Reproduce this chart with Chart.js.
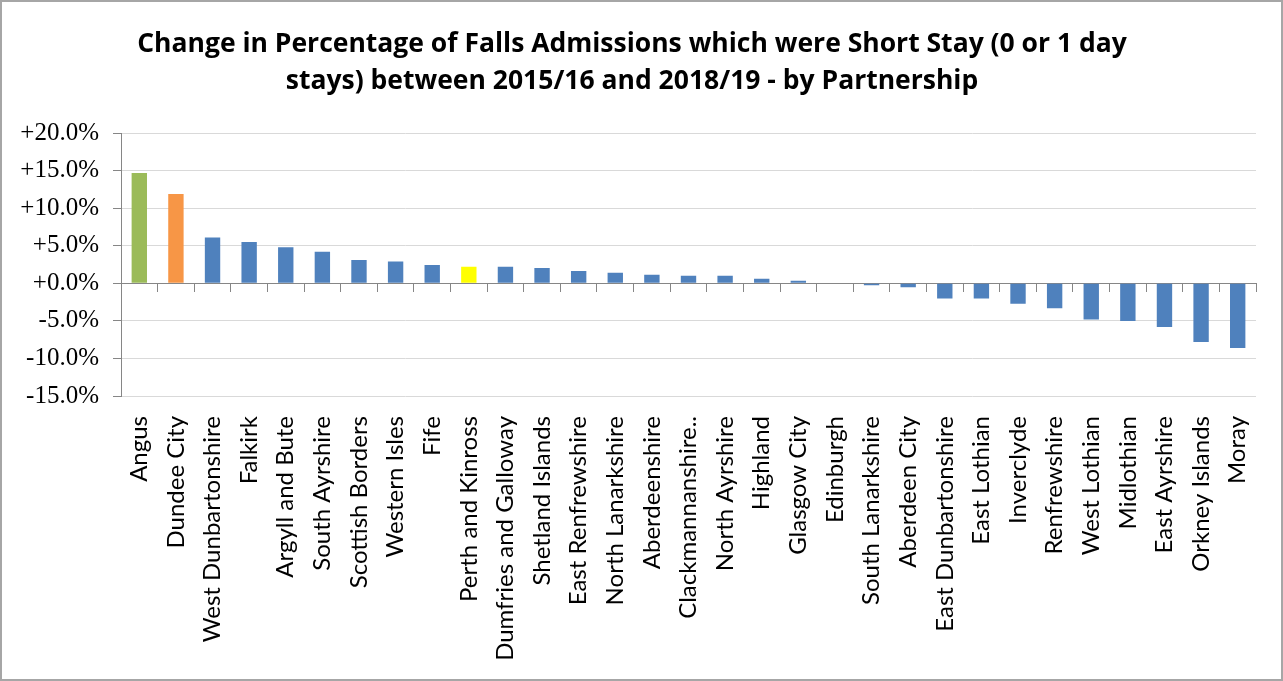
<!DOCTYPE html>
<html>
<head>
<meta charset="utf-8">
<script src="https://cdn.jsdelivr.net/npm/chart.js@4"></script>
<style>
  html, body { margin: 0; padding: 0; background: #fff; }
  #wrap { width: 1283px; height: 681px; }
</style>
</head>
<body>
<div id="wrap"><canvas id="chart" width="1283" height="681"></canvas></div>
<script>
// Partnerships, sorted as in the source chart
const partnerships = [
    'Angus', 'Dundee City', 'West Dunbartonshire', 'Falkirk', 'Argyll and Bute',
    'South Ayrshire', 'Scottish Borders', 'Western Isles', 'Fife', 'Perth and Kinross',
    'Dumfries and Galloway', 'Shetland Islands', 'East Renfrewshire', 'North Lanarkshire',
    'Aberdeenshire', 'Clackmannanshire..', 'North Ayrshire', 'Highland', 'Glasgow City',
    'Edinburgh', 'South Lanarkshire', 'Aberdeen City', 'East Dunbartonshire', 'East Lothian',
    'Inverclyde', 'Renfrewshire', 'West Lothian', 'Midlothian', 'East Ayrshire',
    'Orkney Islands', 'Moray'
];

// Change in % of falls admissions that were short stay (percentage points)
const changePct = [
    14.7, 11.9, 6.1, 5.5, 4.8,
    4.2, 3.1, 2.9, 2.45, 2.2,
    2.2, 2.05, 1.65, 1.4,
    1.15, 1.0, 1.0, 0.6, 0.35,
    0.0, -0.25, -0.5, -2.0, -2.0,
    -2.7, -3.3, -4.8, -5.0, -5.8,
    -7.8, -8.6
];

const yTicks = [-15, -10, -5, 0, 5, 10, 15, 20];

// highlighted partnerships get their own colour
const highlight = { 'Angus': '#9bbb59', 'Dundee City': '#f79646', 'Perth and Kinross': '#ffff00' };
const defaultColour = '#4f81bd';

const axisGrey = '#868686';

// white background + thin grey frame round the whole picture
const framePlugin = {
    id: 'frame',
    beforeDraw(chart) {
        const ctx = chart.ctx;
        ctx.save();
        ctx.fillStyle = '#fff';
        ctx.fillRect(0, 0, chart.width, chart.height);
        ctx.strokeStyle = '#a6a6a6';
        ctx.lineWidth = 2;
        ctx.strokeRect(1, 1, chart.width - 2, chart.height - 2);
        ctx.restore();
    }
};

new Chart(document.getElementById('chart'), {
    type: 'bar',
    data: {
        labels: partnerships,
        datasets: [{
            data: changePct,
            backgroundColor: partnerships.map(p => highlight[p] || defaultColour),
            barPercentage: 0.42,
            categoryPercentage: 1.0
        }]
    },
    options: {
        responsive: false,
        animation: false,
        layout: { padding: { left: 8, right: 27, top: 0, bottom: 0 } },
        plugins: {
            legend: { display: false },
            tooltip: { enabled: false },
            title: {
                display: true,
                text: ['Change in Percentage of Falls Admissions which were Short Stay (0 or 1 day',
                       'stays) between 2015/16 and 2018/19 - by Partnership'],
                color: '#000',
                font: { family: 'Open Sans', size: 26.5, weight: 'bold', lineHeight: 1.4 },
                padding: { top: 26, bottom: 33 }
            }
        },
        scales: {
            x: {
                grid: { display: false },
                border: { display: false },
                ticks: {
                    autoSkip: false,
                    minRotation: 90,
                    maxRotation: 90,
                    padding: 12,
                    color: '#000',
                    font: { family: 'Lato', size: 24 }
                },
                afterFit(scale) { scale.height = 285; }
            },
            // zero line with the category tick marks, as Excel draws it
            x2: {
                type: 'category',
                position: { y: 0 },
                labels: partnerships,
                offset: true,
                grid: { offset: true, drawOnChartArea: false, tickLength: 8, color: axisGrey },
                border: { color: axisGrey, width: 1 },
                ticks: { display: false, autoSkip: false }
            },
            y: {
                min: -15,
                max: 20,
                afterBuildTicks(scale) { scale.ticks = yTicks.map(v => ({ value: v })); },
                grid: { color: '#d9d9d9', tickLength: 8, tickColor: axisGrey },
                border: { color: axisGrey, width: 1 },
                ticks: {
                    padding: 14,
                    color: '#000',
                    font: { family: 'Liberation Serif', size: 25 },
                    callback: v => (v >= 0 ? '+' : '') + v.toFixed(1) + '%'
                },
                afterFit(scale) { scale.width = 113; }
            }
        }
    },
    plugins: [framePlugin]
});
</script>
</body>
</html>
